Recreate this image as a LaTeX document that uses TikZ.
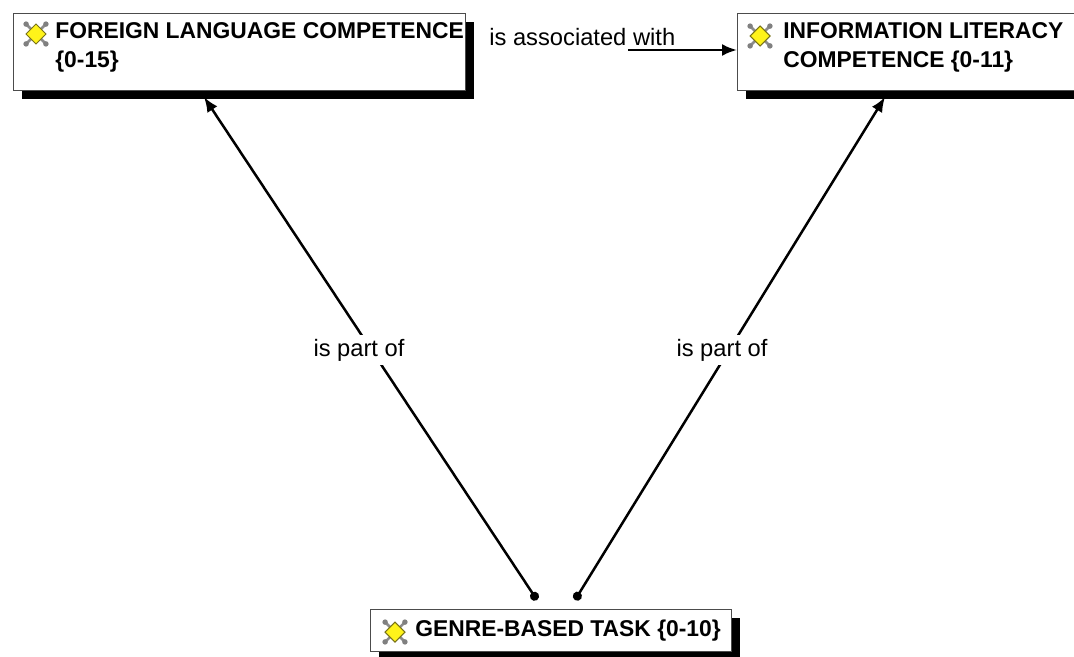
\documentclass[tikz,border=0pt]{standalone}
\usepackage{fontspec}
\setmainfont{Liberation Sans}
\usetikzlibrary{arrows.meta,shadows}

\newcommand{\cmapicon}[1]{
	\begin{scope}[shift={#1}]
		\draw[black!45,line width=0.05cm] (-11,-11) -- (11,11) (-11,11) -- (11,-11);
		\foreach \a in {45,135,225,315}
			\fill[black!50] (\a:14) circle (0.055cm);
		\draw[fill=yellow!90!white,draw=olive!80!black,line width=0.6pt] (0,10) -- (10,0) -- (0,-10) -- (-10,0) -- cycle;
	\end{scope}
}

\begin{document}
\begin{tikzpicture}[x=0.02cm,y=0.02cm]
\tikzstyle{concept}=[draw=black!70,line width=0.8pt,fill=white,rectangle,anchor=north west,inner sep=0pt,
	drop shadow={shadow xshift=0.16cm,shadow yshift=-0.16cm,fill=black,opacity=1}]
\tikzstyle{conceptname}=[anchor=base west,inner sep=0pt,align=left,font=\fontsize{13}{16}\selectfont\bfseries]
\tikzstyle{linkword}=[fill=white,inner sep=2pt,font=\fontsize{13.5}{16}\selectfont]
\tikzstyle{link}=[line width=0.05cm,-{Latex[length=0.3cm,width=0.24cm]}]
\tikzstyle{partof}=[link,{Circle[length=0.18cm]}-{Latex[length=0.3cm,width=0.24cm]}]
\useasboundingbox (0,0) rectangle (1074,-656);

% concepts
\node[concept,minimum width=9.04cm,minimum height=1.54cm] (flc) at (13,-13) {};
\node[concept,minimum width=7.4cm,minimum height=1.54cm] (ilc) at (737,-13) {};
\node[concept,minimum width=7.22cm,minimum height=0.84cm] (gbt) at (370,-609) {};
\cmapicon{(36,-34)}
\cmapicon{(760,-36)}
\cmapicon{(395,-632)}
\node[conceptname] (flc-name) at (55,-67) {FOREIGN LANGUAGE COMPETENCE\\\{0-15\}};
\node[conceptname] (ilc-name) at (783,-67) {INFORMATION LITERACY\\COMPETENCE \{0-11\}};
\node[conceptname] (gbt-name) at (415,-636) {GENRE-BASED TASK \{0-10\}};

% links
\coordinate (gbt-a) at (537,-600);
\coordinate (gbt-b) at (575,-600);
\coordinate (flc-in) at (204,-97);
\coordinate (ilc-in) at (885,-97);
\coordinate (assoc-out) at (628,-50);
\draw[partof] (gbt-a) -- (flc-in);
\draw[partof] (gbt-b) -- (ilc-in);
\draw[link] (assoc-out) -- (assoc-out -| ilc.west);
\node[linkword] (part-l) at (359,-350) {is part of};
\node[linkword] (part-r) at (722,-350) {is part of};
\node[linkword,fill=none,anchor=west,inner sep=0pt] (assoc) at (489,-37) {is associated with};
\end{tikzpicture}
\end{document}
